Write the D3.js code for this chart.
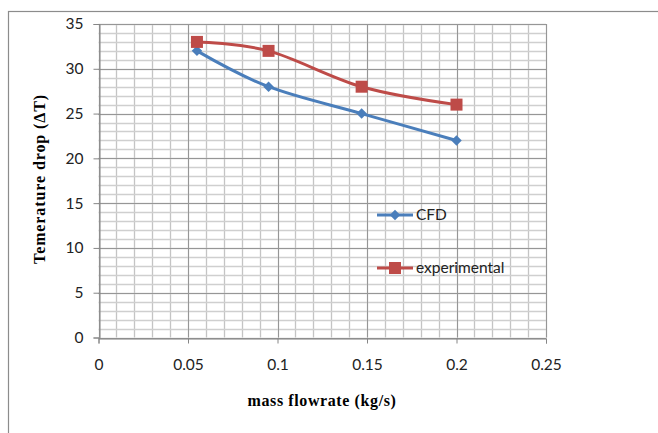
<!DOCTYPE html>
<html>
<head>
<meta charset="utf-8">
<script src="https://cdn.jsdelivr.net/npm/d3@7"></script>
<style>
  html, body { margin: 0; padding: 0; background: #fff; }
  svg { display: block; }
</style>
</head>
<body>
<svg id="chart" width="658" height="433"></svg>
<script>
// ---- data ----
const massFlow = [0.055, 0.095, 0.147, 0.2];
const cfdValues = [32, 28, 25, 22];
const expValues = [33, 32, 28, 26];
const seriesNames = ["CFD", "experimental"];
const xTicks = [0, 0.05, 0.1, 0.15, 0.2, 0.25];
const yTicks = [0, 5, 10, 15, 20, 25, 30, 35];
const xTitle = "mass flowrate (kg/s)";
const yTitle = "Temerature drop (\u0394T)";

const svg = d3.select("#chart");
const W = 658, H = 433;
svg.append("rect").attr("width", W).attr("height", H).attr("fill", "#fff");
// outer chart border
svg.append("rect").attr("x", 8.5).attr("y", 11.5).attr("width", 700).attr("height", 500)
  .attr("fill", "none").attr("stroke", "#8c8c8c").attr("stroke-width", 1.2);

const x = d3.scaleLinear().domain([0, 0.25]).range([98.5, 546]);
const y = d3.scaleLinear().domain([0, 35]).range([337.5, 24]);

const g = svg.append("g");
// minor gridlines
const xMinor = d3.range(0, 26).map(i => i / 100);
const yMinor = d3.range(0, 36);
g.selectAll(".vmin").data(xMinor).join("line")
  .attr("x1", d => Math.round(x(d)) + 0.5).attr("x2", d => Math.round(x(d)) + 0.5)
  .attr("y1", y(35)).attr("y2", y(0))
  .attr("stroke", "#c4c4c4").attr("stroke-width", 1.3);
g.selectAll(".hmin").data(yMinor).join("line")
  .attr("y1", d => Math.round(y(d)) + 0.5).attr("y2", d => Math.round(y(d)) + 0.5)
  .attr("x1", x(0)).attr("x2", x(0.25))
  .attr("stroke", "#cfcfcf").attr("stroke-width", 1.3);
// major gridlines
g.selectAll(".vmaj").data(xTicks).join("line")
  .attr("x1", d => Math.round(x(d)) + 0.5).attr("x2", d => Math.round(x(d)) + 0.5)
  .attr("y1", y(35)).attr("y2", y(0))
  .attr("stroke", "#969696").attr("stroke-width", 1);
g.selectAll(".hmaj").data(yTicks).join("line")
  .attr("y1", d => Math.round(y(d)) + 0.5).attr("y2", d => Math.round(y(d)) + 0.5)
  .attr("x1", x(0)).attr("x2", x(0.25))
  .attr("stroke", "#969696").attr("stroke-width", 1);

// axes
const fmt = d => String(d);
const xAxis = d3.axisBottom(x).tickValues(xTicks).tickFormat(fmt).tickSize(5).tickPadding(15);
const yAxis = d3.axisLeft(y).tickValues(yTicks).tickFormat(fmt).tickSize(6).tickPadding(10);
const gx = svg.append("g").attr("transform", `translate(0,${Math.round(y(0)) + 0.5})`).call(xAxis);
const gy = svg.append("g").attr("transform", `translate(${Math.round(x(0)) + 0.5},0)`).call(yAxis);
[gx, gy].forEach(a => {
  a.select(".domain").attr("stroke", "#868686");
  a.selectAll(".tick line").attr("stroke", "#868686");
  a.selectAll(".tick text").attr("fill", "#222").style("font-family", "Lato, 'Open Sans', sans-serif").style("font-size", "15.5px");
});

// series
const line = d3.line().x(d => x(d[0])).y(d => y(d[1])).curve(d3.curveCatmullRom.alpha(0));
const cfd = massFlow.map((m, i) => [m, cfdValues[i]]);
const exp = massFlow.map((m, i) => [m, expValues[i]]);
const blue = "#4a7ebb", red = "#be4b48";

svg.append("path").datum(cfd).attr("d", line).attr("fill", "none").attr("stroke", blue).attr("stroke-width", 3);
svg.append("path").datum(exp).attr("d", line).attr("fill", "none").attr("stroke", red).attr("stroke-width", 3);

const diamond = d3.symbol().type(d3.symbolDiamond2).size(70);
svg.selectAll(".cfdm").data(cfd).join("path")
  .attr("d", diamond).attr("transform", d => `translate(${x(d[0])},${y(d[1])})`)
  .attr("fill", blue);
const sq = 12;
svg.selectAll(".expm").data(exp).join("rect")
  .attr("x", d => x(d[0]) - sq / 2).attr("y", d => y(d[1]) - sq / 2)
  .attr("width", sq).attr("height", sq).attr("fill", red);

// legend
const legend = svg.append("g");
const legY = [215, 268];
const legColors = [blue, red];
seriesNames.forEach((name, i) => {
  legend.append("line").attr("x1", 377).attr("x2", 413).attr("y1", legY[i]).attr("y2", legY[i])
    .attr("stroke", legColors[i]).attr("stroke-width", 3);
  if (i === 0) {
    legend.append("path").attr("d", diamond).attr("transform", `translate(395,${legY[i]})`).attr("fill", blue);
  } else {
    legend.append("rect").attr("x", 395 - sq / 2).attr("y", legY[i] - sq / 2).attr("width", sq).attr("height", sq).attr("fill", red);
  }
  legend.append("text").attr("x", 416).attr("y", legY[i]).attr("dy", "0.35em")
    .style("font-family", "Lato, 'Open Sans', sans-serif").style("font-size", "15.5px").attr("fill", "#222")
    .text(name);
});

// axis titles
svg.append("text").attr("x", 322).attr("y", 406).attr("text-anchor", "middle")
  .style("font-family", "'Liberation Serif', 'Times New Roman', serif").style("font-weight", "bold").style("font-size", "16px")
  .style("letter-spacing", "0.6px")
  .attr("fill", "#000").text(xTitle);
svg.append("text").attr("transform", "translate(45,179) rotate(-90)").attr("text-anchor", "middle")
  .style("font-family", "'Liberation Serif', 'Times New Roman', serif").style("font-weight", "bold").style("font-size", "16px")
  .style("letter-spacing", "0.9px")
  .attr("fill", "#000").text(yTitle);
</script>
</body>
</html>
